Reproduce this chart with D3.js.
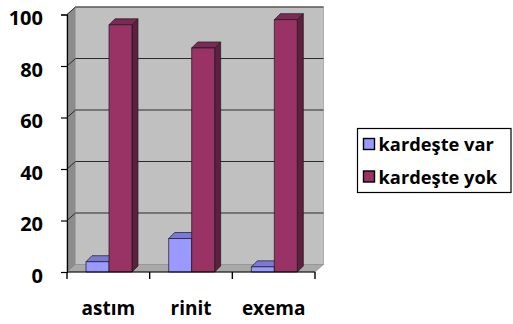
<!DOCTYPE html>
<html>
<head>
<meta charset="utf-8">
<script src="https://cdn.jsdelivr.net/npm/d3@7/dist/d3.min.js"></script>
<style>
  html, body { margin: 0; padding: 0; background: #fff; }
  svg { display: block; }
  text { font-family: "Open Sans", Lato, sans-serif; font-weight: bold; fill: #000; }
</style>
</head>
<body>
<svg id="chart" width="513" height="324"></svg>
<script>
// Data
const categories = ["astım", "rinit", "exema"];
const seriesNames = ["kardeşte var", "kardeşte yok"];
const varValues = [4, 13, 2];
const yokValues = [96, 87, 98];
const yTicks = [0, 20, 40, 60, 80, 100];

// Colours per series: front, top, side
const palette = {
  "kardeşte var": { front: "#9999ff", top: "#7a7ad6", side: "#5f5fa8" },
  "kardeşte yok": { front: "#993366", top: "#7c2a55", side: "#5e1f41" }
};

const svg = d3.select("#chart");

// Plot frame (front plane) and depth of the 3-D box
const plotLeft = 67, plotRight = 315, plotBottom = 272, plotTop = 14.5;
const wallDX = 8.5, wallDY = -7.5;
const barDX = 6, barDY = -6;

const x0 = d3.scaleBand().domain(categories).range([plotLeft, plotRight]);
const bw = x0.bandwidth();
const x1 = d3.scaleBand().domain(seriesNames).range([bw * 0.23, bw * 0.786]);
const y = d3.scaleLinear().domain([0, 100]).range([plotBottom, plotTop]);

const pts = a => a.map(p => p.join(",")).join(" ");

// Side wall (left)
svg.append("polygon")
  .attr("points", pts([[plotLeft, y(100)], [plotLeft + wallDX, y(100) + wallDY],
                       [plotLeft + wallDX, plotBottom + wallDY], [plotLeft, plotBottom]]))
  .attr("fill", "#8c8c8c").attr("stroke", "#6e6e6e").attr("stroke-width", 0.6);

// Back wall
svg.append("rect")
  .attr("x", plotLeft + wallDX).attr("y", y(100) + wallDY)
  .attr("width", plotRight - plotLeft).attr("height", plotBottom - y(100))
  .attr("fill", "#c0c0c0").attr("stroke", "#a4a4a4").attr("stroke-width", 0.8);

// Gridlines across the side wall and back wall
const grid = svg.append("g");
yTicks.filter(t => t > 0).forEach(t => {
  grid.append("polyline")
    .attr("points", pts([[plotLeft, y(t)], [plotLeft + wallDX, y(t) + wallDY],
                         [plotRight + wallDX, y(t) + wallDY]]))
    .attr("fill", "none").attr("stroke", "#2a2a2a").attr("stroke-width", 1);
});

// Floor
svg.append("polygon")
  .attr("points", pts([[plotLeft, plotBottom], [plotRight, plotBottom],
                       [plotRight + wallDX, plotBottom + wallDY], [plotLeft + wallDX, plotBottom + wallDY]]))
  .attr("fill", "#a9a9a9").attr("stroke", "#8a8a8a").attr("stroke-width", 0.6);

// 3-D bars
const rows = categories.map((c, i) => ({
  cat: c,
  vals: [
    { s: seriesNames[0], v: varValues[i] },
    { s: seriesNames[1], v: yokValues[i] }
  ]
}));

rows.forEach(r => {
  r.vals.forEach(d => {
    const xa = x0(r.cat) + x1(d.s);
    const xb = xa + x1.bandwidth();
    const yt = y(d.v);
    const col = palette[d.s];
    const g = svg.append("g").attr("stroke", "#1a1a1a").attr("stroke-width", 0.7)
      .attr("stroke-linejoin", "round");
    // side
    g.append("polygon")
      .attr("points", pts([[xb, yt], [xb + barDX, yt + barDY],
                           [xb + barDX, plotBottom + barDY], [xb, plotBottom]]))
      .attr("fill", col.side);
    // top
    g.append("polygon")
      .attr("points", pts([[xa, yt], [xb, yt], [xb + barDX, yt + barDY], [xa + barDX, yt + barDY]]))
      .attr("fill", col.top);
    // front
    g.append("rect")
      .attr("x", xa).attr("y", yt).attr("width", xb - xa).attr("height", plotBottom - yt)
      .attr("fill", col.front);
  });
});

// Value axis
const yAxis = svg.append("g")
  .attr("transform", `translate(${plotLeft},0)`)
  .call(d3.axisLeft(y).tickValues(yTicks).tickSize(6).tickPadding(18));
yAxis.select(".domain").attr("stroke", "#000").attr("stroke-width", 1.2);
yAxis.selectAll(".tick line").attr("stroke", "#000").attr("stroke-width", 1.2);
yAxis.selectAll(".tick text")
  .attr("font-size", 20).attr("dy", "0.52em")
  .style("font-family", "'Open Sans', sans-serif").style("font-weight", "bold");

// Category axis: baseline, boundary ticks, centred labels
svg.append("line")
  .attr("x1", plotLeft).attr("x2", plotRight).attr("y1", plotBottom).attr("y2", plotBottom)
  .attr("stroke", "#000").attr("stroke-width", 1.2);
const bounds = categories.map(c => x0(c)).concat([plotRight]);
svg.append("g").selectAll("line").data(bounds).join("line")
  .attr("x1", d => d).attr("x2", d => d)
  .attr("y1", plotBottom).attr("y2", plotBottom + 7)
  .attr("stroke", "#000").attr("stroke-width", 1.4);
svg.append("g").selectAll("text").data(categories).join("text")
  .attr("x", d => x0(d) + bw / 2).attr("y", 315)
  .attr("text-anchor", "middle").attr("font-size", 19)
  .text(d => d);

// Legend
const legend = svg.append("g");
legend.append("rect")
  .attr("x", 357.5).attr("y", 128.5).attr("width", 153.5).attr("height", 64)
  .attr("fill", "#fff").attr("stroke", "#000").attr("stroke-width", 1.2);
seriesNames.forEach((s, i) => {
  const yy = 138.5 + i * 32.5;
  legend.append("rect")
    .attr("x", 363.5).attr("y", yy).attr("width", 11).attr("height", 11)
    .attr("fill", palette[s].front).attr("stroke", "#000").attr("stroke-width", 1.4);
  legend.append("text")
    .attr("x", 378.5).attr("y", yy + 12.5)
    .attr("font-size", 18.3)
    .text(s);
});
</script>
</body>
</html>
